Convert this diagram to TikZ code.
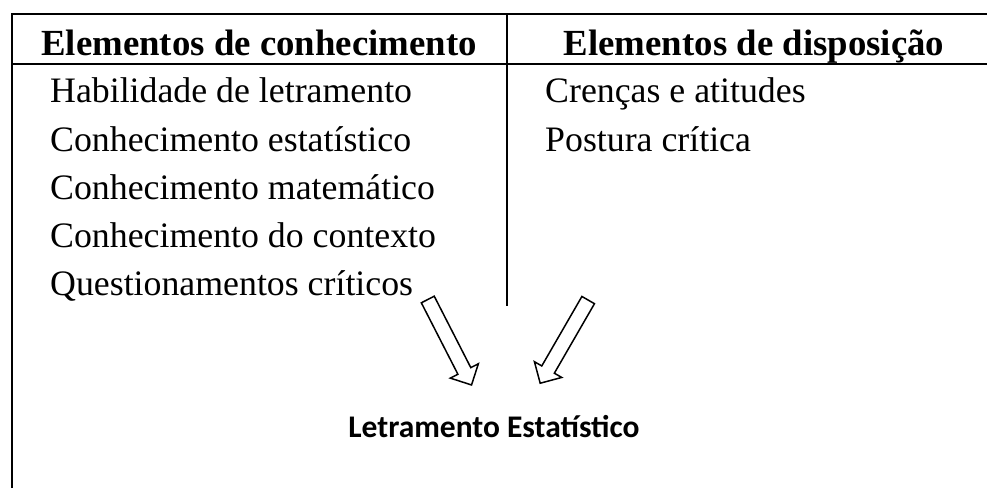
\documentclass[tikz,border=0pt]{standalone}
\usepackage{fontspec}
\setmainfont{Liberation Serif}
\newfontfamily\calibrifont{Carlito}
\usetikzlibrary{shapes.arrows}
\tikzset{
  head/.style={anchor=base, inner sep=0pt, font=\fontsize{36.8}{40}\selectfont\bfseries},
  item/.style={anchor=base west, inner sep=0pt, font=\fontsize{35.8}{40}\selectfont},
  hollow/.style={single arrow, draw, line width=1.5pt, inner xsep=0pt, inner ysep=6.5pt,
    single arrow head extend=8.5pt, minimum height=96pt},
}
\begin{document}
\begin{tikzpicture}[x=1pt,y=-1pt]
  \useasboundingbox (0,0) rectangle (987,488);
  % frame of the table
  \coordinate (tl) at (12,14);
  \coordinate (bl) at (12,488);
  \coordinate (tr) at (987,14);
  \coordinate (hl) at (12,64);
  \coordinate (hr) at (987,64);
  \coordinate (mt) at (507,14);
  \coordinate (mb) at (507,306);
  \draw[line width=2.5pt] (bl) -- (tl) -- (tr);
  \draw[line width=2pt] (hl) -- (hr);
  \draw[line width=1.3pt] (mt) -- (mb);
  % headers
  \node[head] (conh) at (259,55) {Elementos de conhecimento};
  \node[head] (disp) at (754,55) {Elementos de disposição};
  % left column
  \node[item] (hab) at (50,102) {Habilidade de letramento};
  \node[item] (est) at (50,151) {Conhecimento estatístico};
  \node[item] (mat) at (50,199) {Conhecimento matemático};
  \node[item] (ctx) at (50,247) {Conhecimento do contexto};
  \node[item] (que) at (50,295) {Questionamentos críticos};
  % right column
  \node[item] (cre) at (545,102) {Crenças e atitudes};
  \node[item] (pos) at (545,151) {Postura crítica};
  % arrows
  \node[hollow, rotate=-62.9] (arl) at (448,339) {};
  \node[hollow, rotate=-120] (arr) at (566,338.5) {};
  % result
  \node[anchor=base, inner sep=0pt, font=\calibrifont\bfseries\fontsize{31.5}{36}\selectfont] (letr) at (494,437) {Letramento Estatístico};
\end{tikzpicture}
\end{document}
